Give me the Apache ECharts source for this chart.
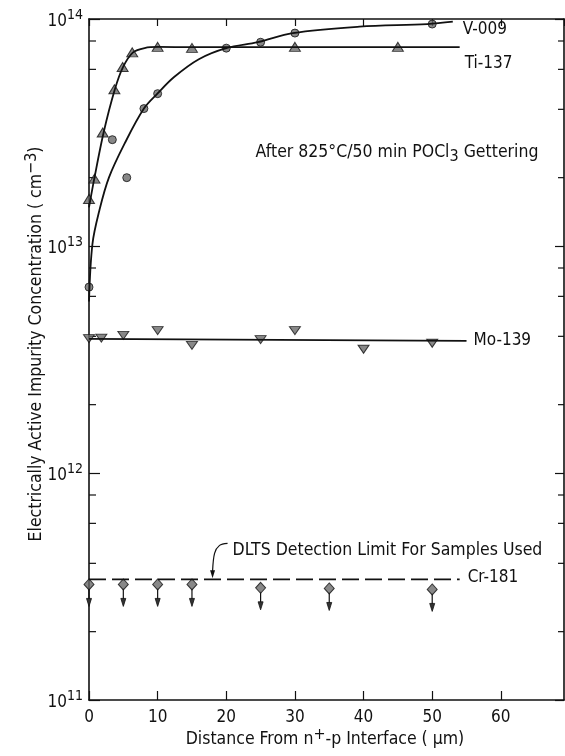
<!DOCTYPE html>
<html><head><meta charset="utf-8">
<script src="https://cdn.jsdelivr.net/npm/echarts@6/dist/echarts.min.js"></script>
<style>html,body{margin:0;padding:0;background:#fff}#c{width:565px;height:756px}</style>
</head><body><div id="c"></div>
<script>
// ---- data ----
const xTicks = [0, 10, 20, 30, 40, 50, 60];
const minorTickValues = [2e11, 4e11, 6e11, 8e11, 2e12, 4e12, 6e12, 8e12, 2e13, 4e13, 6e13, 8e13];

const tiPointsX = [0, 0.8, 2, 3.7, 4.9, 6.3, 10, 15, 30, 45];
const tiPointsY = [1.61e13, 1.98e13, 3.16e13, 4.9e13, 6.15e13, 7.13e13, 7.54e13, 7.46e13, 7.54e13, 7.54e13];
const tiCurveX = [0, 0.77, 2.13, 3.77, 4.97, 6.42, 8.1, 10.1, 15, 30, 45, 54];
const tiCurveY = [1.48e13, 1.98e13, 3.16e13, 4.9e13, 6.15e13, 7.13e13, 7.45e13, 7.53e13, 7.52e13, 7.52e13, 7.52e13, 7.52e13];

const vPointsX = [0, 3.4, 5.5, 8, 10, 20, 25, 30, 50];
const vPointsY = [6.59e12, 2.94e13, 2.0e13, 4.03e13, 4.69e13, 7.44e13, 7.9e13, 8.67e13, 9.5e13];
const vCurveX = [0, 0.5, 1.5, 2.9, 5.2, 8, 10, 12.4, 16, 20, 24.6, 29.7, 39.4, 49.3, 53];
const vCurveY = [5.7e12, 1.02e13, 1.43e13, 2.0e13, 2.83e13, 4.03e13, 4.7e13, 5.55e13, 6.65e13, 7.44e13, 7.9e13, 8.67e13, 9.25e13, 9.5e13, 9.73e13];

const moPointsX = [0, 1.8, 5, 10, 15, 25, 30, 40, 50];
const moPointsY = [3.91e12, 3.93e12, 4.04e12, 4.24e12, 3.65e12, 3.87e12, 4.24e12, 3.51e12, 3.73e12];
const moLineX = [0, 55];
const moLineY = [3.9e12, 3.82e12];

const crPointsX = [0, 5, 10, 15, 25, 35, 50];
const crPointsY = [3.23e11, 3.23e11, 3.23e11, 3.23e11, 3.12e11, 3.1e11, 3.07e11];
const limitLineX = [0, 54];
const limitLineY = [3.4e11, 3.4e11];
const limitArrowAt = [18, 3.4e11];

// ---- chart ----
const FONT = "'DejaVu Sans Condensed','Liberation Sans Narrow','DejaVu Sans',sans-serif";
const INK = '#111';
const X_MAX = 69.2;
const zip = (xs, ys) => xs.map((x, i) => [x, ys[i]]);
const chart = echarts.init(document.getElementById('c'));

const axisLineStyle = { color: INK, width: 1.6 };
const markStyle = { color: '#6a6a6a', borderColor: INK, borderWidth: 1 };
const lbl = (t, off, fs) => ({ show: true, formatter: t, color: INK, fontSize: fs || 17, fontFamily: FONT, offset: off });

const option = {
  animation: false,
  grid: { left: 89, right: 1, top: 19, bottom: 56 },
  xAxis: [
    { type: 'value', min: 0, max: X_MAX, interval: 10, position: 'bottom',
      axisLine: { onZero: false, lineStyle: axisLineStyle },
      axisTick: { inside: true, length: 9, lineStyle: { color: INK, width: 1.2 } },
      splitLine: { show: false },
      axisLabel: { color: INK, fontSize: 17, fontFamily: FONT, margin: 9, showMaxLabel: false,
        formatter: v => xTicks.includes(v) ? String(v) : '' } },
    { type: 'value', min: 0, max: X_MAX, interval: 10, position: 'top',
      axisLine: { onZero: false, lineStyle: axisLineStyle },
      axisTick: { inside: true, length: 7, lineStyle: { color: INK, width: 1.2 } },
      splitLine: { show: false }, axisLabel: { show: false } }
  ],
  yAxis: [
    { type: 'log', logBase: 10, min: 1e11, max: 1e14, position: 'left',
      axisLine: { show: true, onZero: false, lineStyle: axisLineStyle },
      axisTick: { show: true, inside: true, length: 11, lineStyle: { color: INK, width: 1.2 } },
      splitLine: { show: false },
      axisLabel: { margin: 6, color: INK,
        formatter: v => '{b|10}{s|' + Math.round(Math.log10(v)) + '}',
        rich: {
          b: { fontSize: 17, fontFamily: FONT, color: INK, verticalAlign: 'bottom' },
          s: { fontSize: 14, fontFamily: FONT, color: INK, verticalAlign: 'top', padding: [0, 0, 8, 0] }
        } } },
    { type: 'log', logBase: 10, min: 1e11, max: 1e14, position: 'right',
      axisLine: { show: true, onZero: false, lineStyle: axisLineStyle },
      axisTick: { show: true, inside: true, length: 9, lineStyle: { color: INK, width: 1.2 } },
      splitLine: { show: false }, axisLabel: { show: false } }
  ],
  series: [
    { type: 'custom', silent: true, clip: false, data: minorTickValues.map(v => [0, v]),
      renderItem: (p, api) => {
        const v = api.value(1);
        const l = api.coord([0, v]), r = api.coord([X_MAX, v]);
        return { type: 'group', children: [
          { type: 'line', shape: { x1: l[0], y1: l[1], x2: l[0] + 7, y2: l[1] }, style: { stroke: INK, lineWidth: 1.2 } },
          { type: 'line', shape: { x1: r[0] - 6, y1: r[1], x2: r[0], y2: r[1] }, style: { stroke: INK, lineWidth: 1.2 } }
        ] };
      } },
    { name: 'V-009', type: 'line', data: zip(vCurveX, vCurveY), smooth: 0.35, showSymbol: false, silent: true,
      lineStyle: { color: INK, width: 1.8 }, endLabel: lbl('V-009', [2, 8]) },
    { name: 'Ti-137', type: 'line', data: zip(tiCurveX, tiCurveY), smooth: 0.3, showSymbol: false, silent: true,
      lineStyle: { color: INK, width: 1.8 }, endLabel: lbl('Ti-137', [-3, 16]) },
    { name: 'Mo-139', type: 'line', data: zip(moLineX, moLineY), showSymbol: false, silent: true,
      lineStyle: { color: INK, width: 1.8 }, endLabel: lbl('Mo-139', [-1, 0]) },
    { name: 'limit', type: 'line', data: zip(limitLineX, limitLineY), showSymbol: false, silent: true,
      lineStyle: { color: INK, width: 1.8, type: [17, 6] }, endLabel: lbl('Cr-181', [0, -2]) },
    { type: 'scatter', data: zip(tiPointsX, tiPointsY), symbol: 'triangle', symbolSize: [11, 9], itemStyle: markStyle, silent: true },
    { type: 'scatter', data: zip(vPointsX, vPointsY), symbol: 'circle', symbolSize: 8, itemStyle: markStyle, silent: true },
    { type: 'scatter', data: zip(moPointsX, moPointsY), symbol: 'triangle', symbolRotate: 180, symbolSize: [11, 8], itemStyle: markStyle, silent: true },
    { type: 'custom', silent: true, clip: false, data: zip(crPointsX, crPointsY),
      renderItem: (p, api) => {
        const c = api.coord([api.value(0), api.value(1)]);
        return { type: 'group', children: [
          { type: 'line', shape: { x1: c[0], y1: c[1] + 4, x2: c[0], y2: c[1] + 17 }, style: { stroke: INK, lineWidth: 1.2 } },
          { type: 'polygon', shape: { points: [[c[0] - 2.5, c[1] + 14], [c[0] + 2.5, c[1] + 14], [c[0], c[1] + 22]] }, style: { fill: '#333', stroke: INK, lineWidth: 0.8 } }
        ] };
      } },
    { type: 'scatter', data: zip(crPointsX, crPointsY), symbol: 'diamond', symbolSize: [10, 11], itemStyle: markStyle, silent: true }
  ]
};
chart.setOption(option);

const a = chart.convertToPixel({ gridIndex: 0 }, limitArrowAt);
const txt = (extra) => Object.assign({ fontFamily: FONT, fontSize: 17.5, fill: INK }, extra);
chart.setOption({
  graphic: [
    { type: 'text', x: 36, y: 344, rotation: Math.PI / 2,
      style: txt({ text: 'Electrically Active Impurity Concentration ( cm{s|−3})', align: 'center', verticalAlign: 'middle',
        rich: { s: { fontSize: 16, fontFamily: FONT, fill: INK, verticalAlign: 'top', padding: [0, 0, 9, 0] } } }) },
    { type: 'text', x: 325, y: 739,
      style: txt({ text: 'Distance From n{s|+}-p Interface ( µm)', align: 'center', verticalAlign: 'middle',
        rich: { s: { fontSize: 16, fontFamily: FONT, fill: INK, verticalAlign: 'top', padding: [0, 0, 8, 0] } } }) },
    { type: 'text', x: 397, y: 152,
      style: txt({ text: 'After 825°C/50 min POCl{u|3} Gettering', align: 'center', verticalAlign: 'middle',
        rich: { u: { fontSize: 16, fontFamily: FONT, fill: INK, verticalAlign: 'bottom', padding: [10, 0, 0, 0] } } }) },
    { type: 'text', x: a[0] + 20, y: a[1] - 29,
      style: txt({ text: 'DLTS Detection Limit For Samples Used', align: 'left', verticalAlign: 'middle' }) },
    { type: 'polyline', shape: { points: [[a[0] + 15, a[1] - 36], [a[0] + 7, a[1] - 34], [a[0] + 2, a[1] - 26], [a[0], a[1] - 8]], smooth: 0.3 },
      style: { stroke: INK, lineWidth: 1.2, fill: null } },
    { type: 'polygon', shape: { points: [[a[0] - 2.5, a[1] - 9], [a[0] + 2.5, a[1] - 9], [a[0], a[1] - 1]] }, style: { fill: INK } }
  ]
});
</script></body></html>
